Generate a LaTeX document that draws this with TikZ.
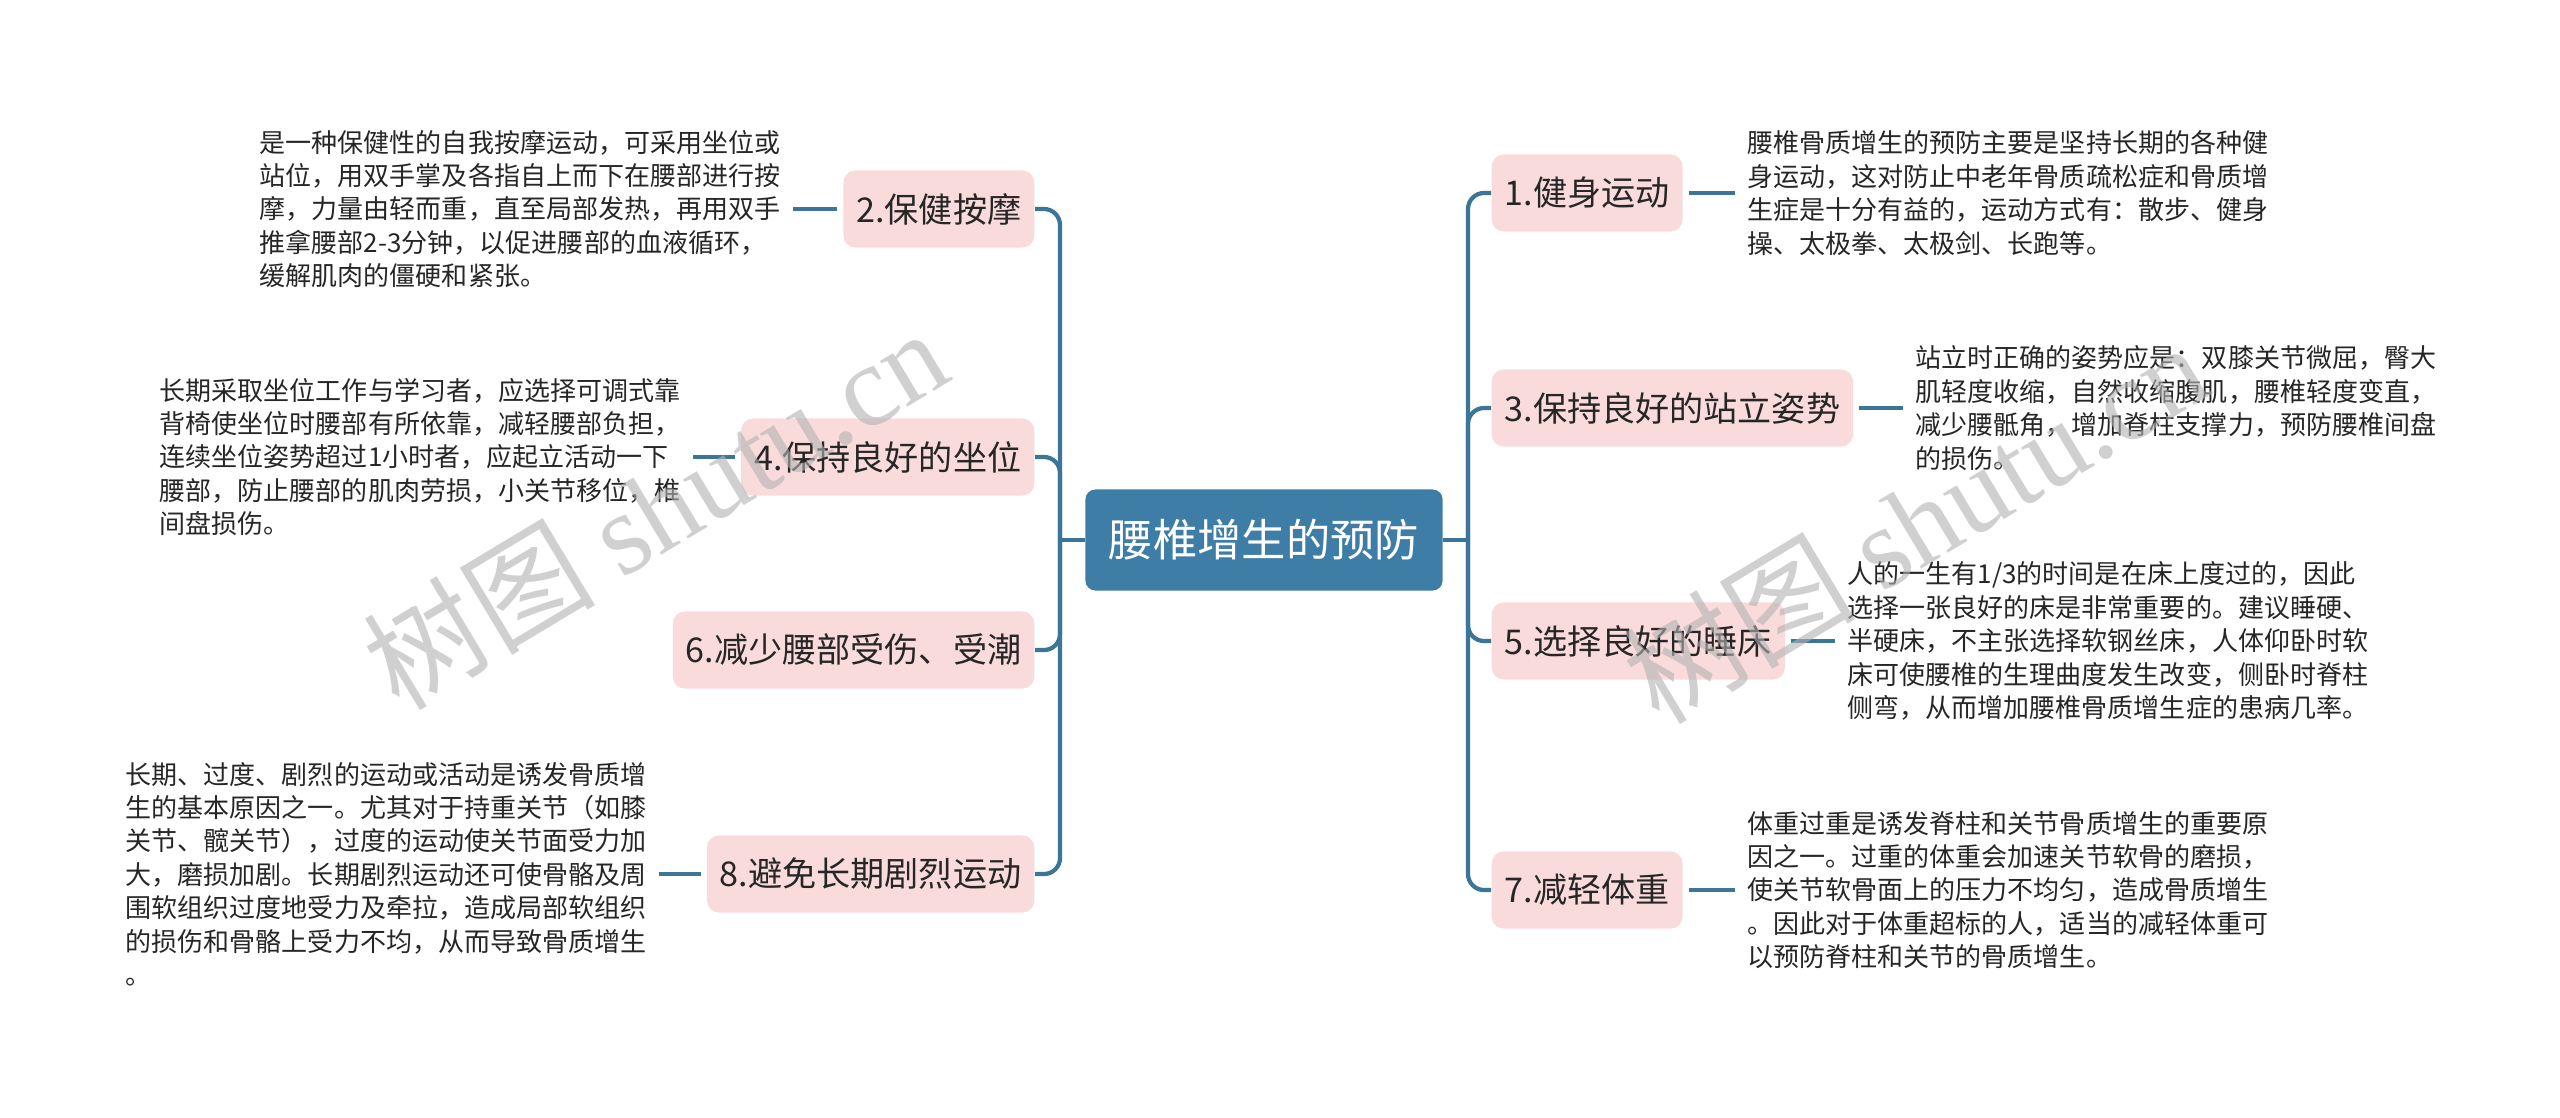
\documentclass[tikz,border=0pt]{standalone}
\usepackage{fontspec}
\setmainfont{Noto Sans CJK SC}
\newfontfamily\wmlatin{Liberation Serif}
\definecolor{rootblue}{HTML}{3E7DA6}
\definecolor{linkblue}{HTML}{3B7698}
\definecolor{branchpink}{HTML}{FADBDB}
\definecolor{txtgray}{HTML}{262626}

\begin{document}
\begin{tikzpicture}[
    x=0.01cm, y=-0.01cm,
    root/.style={rectangle, rounded corners=0.1cm, fill=rootblue, text=white, minimum width=3.57cm, minimum height=1.01cm, font=\fontsize{12.6pt}{14pt}\selectfont},
    branch/.style={rectangle, rounded corners=0.12cm, fill=branchpink, text=txtgray, minimum height=0.77cm, inner xsep=0.13cm, font=\fontsize{9.7pt}{11pt}\selectfont},
    desc/.style={align=left, inner sep=0pt, text=txtgray, font=\fontsize{7.4pt}{9.5pt}\selectfont},
    link/.style={draw=linkblue, line width=1.2pt},
    leaf/.style={link, shorten <=1.5pt, shorten >=3.5pt},
    watermark/.style={text=black!30, opacity=0.6, rotate=31, font=\fontsize{33pt}{33pt}\selectfont},
]
    \useasboundingbox[fill=white] (0,0) rectangle (2560,1117);

    % Root
    \node[root] (root) at (1264,540) {腰椎增生的预防};
    \coordinate (rj) at (1468,540);
    \coordinate (lj) at (1060,540);

    % Right branches
    \node[branch, anchor=west] (b1) at (1491,193) {1.健身运动};
    \node[branch, anchor=west] (b3) at (1491,408) {3.保持良好的站立姿势};
    \node[branch, anchor=west] (b5) at (1491,641) {5.选择良好的睡床};
    \node[branch, anchor=west] (b7) at (1491,890) {7.减轻体重};

    % Left branches
    \node[branch, anchor=east] (b2) at (1035,209) {2.保健按摩};
    \node[branch, anchor=east] (b4) at (1035,457) {4.保持良好的坐位};
    \node[branch, anchor=east] (b6) at (1035,650) {6.减少腰部受伤、受潮};
    \node[branch, anchor=east] (b8) at (1035,874) {8.避免长期剧烈运动};

    % Descriptions, right side
    \node[desc, anchor=west] (d1) at (1747,193) {腰椎骨质增生的预防主要是坚持长期的各种健\\身运动，这对防止中老年骨质疏松症和骨质增\\生症是十分有益的，运动方式有：散步、健身\\操、太极拳、太极剑、长跑等。};
    \node[desc, anchor=west] (d3) at (1915,408) {站立时正确的姿势应是：双膝关节微屈，臀大\\肌轻度收缩，自然收缩腹肌，腰椎轻度变直，\\减少腰骶角，增加脊柱支撑力，预防腰椎间盘\\的损伤。};
    \node[desc, anchor=west] (d5) at (1847,641) {人的一生有1/3的时间是在床上度过的，因此\\选择一张良好的床是非常重要的。建议睡硬、\\半硬床，不主张选择软钢丝床，人体仰卧时软\\床可使腰椎的生理曲度发生改变，侧卧时脊柱\\侧弯，从而增加腰椎骨质增生症的患病几率。};
    \node[desc, anchor=west] (d7) at (1747,890) {体重过重是诱发脊柱和关节骨质增生的重要原\\因之一。过重的体重会加速关节软骨的磨损，\\使关节软骨面上的压力不均匀，造成骨质增生\\。因此对于体重超标的人，适当的减轻体重可\\以预防脊柱和关节的骨质增生。};

    % Descriptions, left side
    \node[desc, anchor=east] (d2) at (781,209) {是一种保健性的自我按摩运动，可采用坐位或\\站位，用双手掌及各指自上而下在腰部进行按\\摩，力量由轻而重，直至局部发热，再用双手\\推拿腰部2-3分钟，以促进腰部的血液循环，\\缓解肌肉的僵硬和紧张。};
    \node[desc, anchor=east] (d4) at (681,457) {长期采取坐位工作与学习者，应选择可调式靠\\背椅使坐位时腰部有所依靠，减轻腰部负担，\\连续坐位姿势超过1小时者，应起立活动一下\\腰部，防止腰部的肌肉劳损，小关节移位，椎\\间盘损伤。};
    \node[desc, anchor=east] (d8) at (647,874) {长期、过度、剧烈的运动或活动是诱发骨质增\\生的基本原因之一。尤其对于持重关节（如膝\\关节、髋关节），过度的运动使关节面受力加\\大，磨损加剧。长期剧烈运动还可使骨骼及周\\围软组织过度地受力及牵拉，造成局部软组织\\的损伤和骨骼上受力不均，从而导致骨质增生\\。};

    % Spine
    \draw[link] (root.east) -- (rj);
    \draw[link] (root.west) -- (lj);
    \foreach \b in {b1,b3,b5,b7}
        \draw[link, rounded corners=0.16cm] (rj) |- (\b.west);
    \foreach \b in {b2,b4,b6,b8}
        \draw[link, rounded corners=0.16cm] (lj) |- (\b.east);

    % Leaves
    \foreach \n in {1,3,5,7}
        \draw[leaf] (b\n.east) -- (d\n.west);
    \foreach \n in {2,4,8}
        \draw[leaf] (b\n.west) -- (d\n.east);

    % Watermark
    \node[watermark] (wm1) at (655,508) {树图 {\wmlatin shutu.cn}};
    \node[watermark] (wm2) at (1915,522) {树图 {\wmlatin shutu.cn}};
\end{tikzpicture}
\end{document}
